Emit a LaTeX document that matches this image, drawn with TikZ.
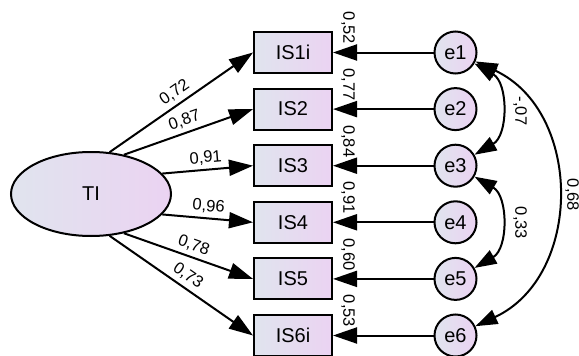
\documentclass[tikz,border=0pt]{standalone}
\usepackage{fontspec}
\setmainfont{Liberation Sans}
\usetikzlibrary{arrows.meta,shapes.geometric}
\definecolor{fillA}{HTML}{E0E4EE}
\definecolor{fillB}{HTML}{EBD3F2}
\begin{document}
\begin{tikzpicture}[x=1pt,y=1pt,
  obs/.style={draw, line width=2pt, minimum width=78pt, minimum height=41pt,
    left color=fillA, right color=fillB, inner sep=0pt,
    font=\fontsize{20}{20}\selectfont},
  lat/.style={ellipse, draw, line width=2pt, minimum width=160pt, minimum height=84pt,
    left color=fillA, right color=fillB, inner sep=0pt,
    font=\fontsize{20}{20}\selectfont},
  err/.style={circle, draw, line width=2pt, minimum size=42pt,
    left color=fillA, right color=fillB, inner sep=0pt,
    font=\fontsize{20}{20}\selectfont},
  pth/.style={line width=2pt, -{Triangle[length=24pt,width=16pt]}},
  cov/.style={line width=2pt, {Triangle[length=22pt,width=15pt]}-{Triangle[length=22pt,width=15pt]}},
  lbl/.style={font=\fontsize{16.5}{16.5}\selectfont, inner sep=1pt}
]
\useasboundingbox (0,0) rectangle (579,-356);

\node[lat] (TI) at (91,-194) {TI};

\node[obs] (IS1) at (293,-52.5) {IS1i};
\node[obs] (IS2) at (293,-109.1) {IS2};
\node[obs] (IS3) at (293,-165.7) {IS3};
\node[obs] (IS4) at (293,-222.3) {IS4};
\node[obs] (IS5) at (293,-278.9) {IS5};
\node[obs] (IS6) at (293,-335.5) {IS6i};

\node[err] (e1) at (455.5,-52.5) {e1};
\node[err] (e2) at (455.5,-109.1) {e2};
\node[err] (e3) at (455.5,-165.7) {e3};
\node[err] (e4) at (455.5,-222.3) {e4};
\node[err] (e5) at (455.5,-278.9) {e5};
\node[err] (e6) at (455.5,-335.5) {e6};

\draw[pth] (TI.66.6) -- node[lbl, sloped, above=3pt, pos=0.5] {0,72} (IS1.west);
\draw[pth] (TI.50.3) -- node[lbl, sloped, above=3pt, pos=0.5] {0,87} (IS2.west);
\draw[pth] (TI.16.3) -- node[lbl, sloped, above=3pt, pos=0.49] {0,91} (IS3.west);
\draw[pth] (TI.-16.3) -- node[lbl, sloped, above=3pt, pos=0.5] {0,96} (IS4.west);
\draw[pth] (TI.-50.3) -- node[lbl, sloped, above=3pt, pos=0.51] {0,78} (IS5.west);
\draw[pth] (TI.-66.6) -- node[lbl, sloped, above=3pt, pos=0.5] {0,73} (IS6.west);

\draw[pth] (e1) -- (IS1);
\draw[pth] (e2) -- (IS2);
\draw[pth] (e3) -- (IS3);
\draw[pth] (e4) -- (IS4);
\draw[pth] (e5) -- (IS5);
\draw[pth] (e6) -- (IS6);

\node[lbl, rotate=-90] at ([xshift=15pt,yshift=3pt]IS1.north east) {0,52};
\node[lbl, rotate=-90] at ([xshift=15pt,yshift=3pt]IS2.north east) {0,77};
\node[lbl, rotate=-90] at ([xshift=15pt,yshift=3pt]IS3.north east) {0,84};
\node[lbl, rotate=-90] at ([xshift=15pt,yshift=3pt]IS4.north east) {0,91};
\node[lbl, rotate=-90] at ([xshift=15pt,yshift=3pt]IS5.north east) {0,60};
\node[lbl, rotate=-90] at ([xshift=15pt,yshift=3pt]IS6.north east) {0,53};

\draw[cov] (e1.-30) to[out=-30,in=30,looseness=1.1] (e3.30);
\draw[cov] (e3.-30) to[out=-30,in=30,looseness=1.1] (e5.30);
\draw[cov] (e1.-24) to[out=-25,in=25,looseness=1.15] (e6.25);

\node[lbl, rotate=-90] (c13) at (520,-111) {-,07};
\node[lbl, rotate=-90] (c35) at (520,-223) {0,33};
\node[lbl, rotate=-90] (c16) at (572,-195) {0,68};
\end{tikzpicture}
\end{document}
